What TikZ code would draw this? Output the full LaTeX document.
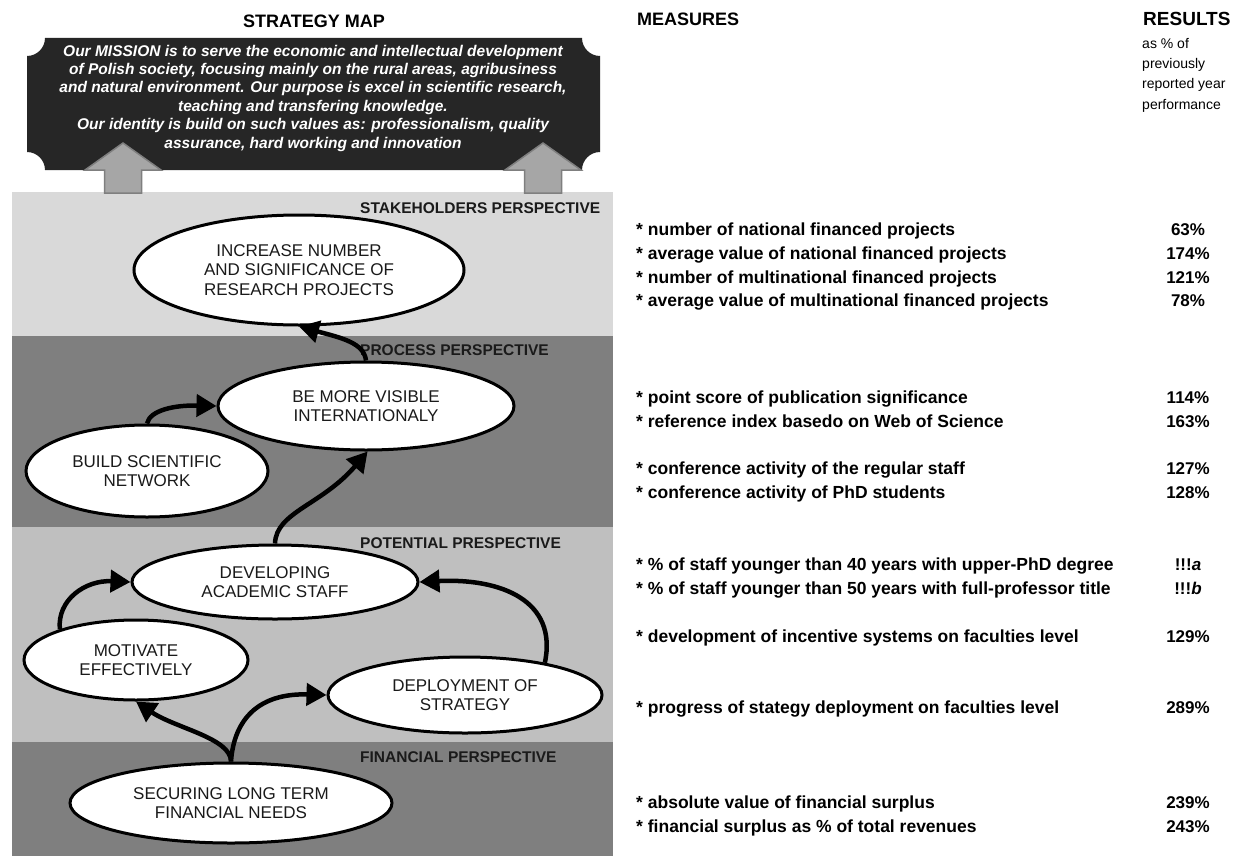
\documentclass[tikz,border=0pt]{standalone}
\usepackage{fontspec}
\setmainfont{Liberation Sans}
\usetikzlibrary{shapes.geometric,arrows.meta}
\definecolor{bandA}{HTML}{D9D9D9}
\definecolor{bandB}{HTML}{7F7F7F}
\definecolor{bandC}{HTML}{BFBFBF}
\definecolor{boxc}{HTML}{262626}
\definecolor{garrow}{HTML}{A6A6A6}
\definecolor{garrowd}{HTML}{7F7F7F}
\definecolor{txt}{HTML}{1A1A1A}
\begin{document}
\begin{tikzpicture}[x=1pt,y=-1pt,
  ell/.style={ellipse, draw=black, line width=3pt, fill=white, inner sep=0pt, align=center,
    font=\fontsize{17}{19.5}\selectfont, text=txt},
  conn/.style={line width=4.5pt, -{Triangle[length=20pt,width=22pt]}},
  bandlab/.style={anchor=mid west, inner sep=0pt, font=\bfseries\fontsize{15.5}{18}\selectfont, text=txt},
  head/.style={inner sep=0pt, font=\bfseries\fontsize{18}{20}\selectfont},
  meas/.style={anchor=mid west, inner sep=0pt, font=\bfseries\fontsize{17.5}{20}\selectfont},
  res/.style={anchor=mid, inner sep=0pt, font=\bfseries\fontsize{17}{20}\selectfont},
  blockarrow/.style={fill=garrow, draw=garrowd, line width=1.5pt, line join=miter}
]
\useasboundingbox (0,0) rectangle (1238,856);
\fill[white] (0,0) rectangle (1238,856);

% perspective bands
\fill[bandA] (12,192) rectangle (613,336);
\fill[bandB] (12,336) rectangle (613,527);
\fill[bandC] (12,527) rectangle (613,742);
\fill[bandB] (12,742) rectangle (613,856);

% mission box
\fill[boxc] (45,38) -- (582,38) .. controls (582,47.9) and (590.1,56) .. (600,56)
  -- (600,152) .. controls (590.1,152) and (582,160.1) .. (582,170)
  -- (45,170) .. controls (45,160.1) and (36.9,152) .. (27,152)
  -- (27,56) .. controls (36.9,56) and (45,47.9) .. cycle;
\node[align=center, text=white, inner sep=0pt, font=\bfseries\itshape\fontsize{15.5}{18.4}\selectfont]
  (mission) at (313,98) {Our MISSION is to serve the economic and intellectual development\\
  of Polish society, focusing mainly on the rural areas, agribusiness\\
  and natural environment. Our purpose is excel in scientific research,\\
  teaching and transfering knowledge.\\
  Our identity is build on such values as: professionalism, quality\\
  assurance, hard working and innovation};

% grey block arrows
\draw[blockarrow] (123,143) -- (161,170) -- (141.5,170) -- (141.5,193) -- (104.5,193) -- (104.5,170) -- (85,170) -- cycle;
\draw[blockarrow] (543,143) -- (581,170) -- (561.5,170) -- (561.5,193) -- (524.5,193) -- (524.5,170) -- (505,170) -- cycle;

% headings
\node[head] (hmap) at (314,21) {STRATEGY MAP};
\node[head, anchor=mid west] (hmeas) at (637,23) {MEASURES};
\node[head, anchor=mid west, font=\bfseries\fontsize{19}{20}\selectfont] (hres) at (1143,23) {RESULTS};
\node[anchor=north west, align=left, inner sep=0pt, font=\fontsize{14}{20.3}\selectfont] (hsub) at (1142,38)
  {as \% of\\previously\\reported year\\performance};

% band labels
\node[bandlab] (lstake) at (360,210.5) {STAKEHOLDERS PERSPECTIVE};
\node[bandlab] (lproc) at (360,352.5) {PROCESS PERSPECTIVE};
\node[bandlab] (lpot) at (360,545.5) {POTENTIAL PRESPECTIVE};
\node[bandlab] (lfin) at (360,759.5) {FINANCIAL PERSPECTIVE};

% objectives
\node[ell, minimum width=330pt, minimum height=110pt] (inc) at (299,270) {INCREASE NUMBER\\AND SIGNIFICANCE OF\\RESEARCH PROJECTS};
\node[ell, minimum width=296pt, minimum height=88pt] (vis) at (366,406) {BE MORE VISIBLE\\INTERNATIONALY};
\node[ell, minimum width=242pt, minimum height=92pt] (build) at (147,471) {BUILD SCIENTIFIC\\NETWORK};
\node[ell, minimum width=286pt, minimum height=74pt] (dev) at (275,582) {DEVELOPING\\ACADEMIC STAFF};
\node[ell, minimum width=224pt, minimum height=80pt] (mot) at (136,660) {MOTIVATE\\EFFECTIVELY};
\node[ell, minimum width=274pt, minimum height=76pt] (dep) at (465,695) {DEPLOYMENT OF\\STRATEGY};
\node[ell, minimum width=322pt, minimum height=80pt] (sec) at (231,803) {SECURING LONG TERM\\FINANCIAL NEEDS};

% connectors
\draw[conn] (vis.north) .. controls (364,343) and (342,338) .. (inc.-90);
\draw[conn] (build.north) .. controls (150,410) and (175,405) .. (vis.west);
\draw[conn] (dev.north) .. controls (276,512) and (322,505) .. (vis.-88);
\draw[conn] (mot.158) .. controls (57,600) and (85,580) .. (dev.west);
\draw[conn] (dep.22) .. controls (558,600) and (500,578) .. (dev.east);
\draw[conn] (sec.north) .. controls (231,738) and (175,728) .. (mot.south);
\draw[conn] (sec.north) .. controls (234,718) and (260,693) .. (dep.west);

% measures
\node[meas] (m1) at (636,233) {* number of national financed projects};
\node[meas] (m2) at (636,257) {* average value of national financed projects};
\node[meas] (m3) at (636,281) {* number of multinational financed projects};
\node[meas] (m4) at (636,304) {* average value of multinational financed projects};
\node[meas] (m5) at (636,401) {* point score of publication significance};
\node[meas] (m6) at (636,425) {* reference index basedo on Web of Science};
\node[meas] (m7) at (636,472) {* conference activity of the regular staff};
\node[meas] (m8) at (636,496) {* conference activity of PhD students};
\node[meas] (m9) at (636,568) {* \% of staff younger than 40 years with upper-PhD degree};
\node[meas] (m10) at (636,592) {* \% of staff younger than 50 years with full-professor title};
\node[meas] (m11) at (636,640) {* development of incentive systems on faculties level};
\node[meas] (m12) at (636,711) {* progress of stategy deployment on faculties level};
\node[meas] (m13) at (636,806) {* absolute value of financial surplus};
\node[meas] (m14) at (636,830) {* financial surplus as \% of total revenues};

% results
\node[res] (r1) at (1188,233) {63\%};
\node[res] (r2) at (1188,257) {174\%};
\node[res] (r3) at (1188,281) {121\%};
\node[res] (r4) at (1188,304) {78\%};
\node[res] (r5) at (1188,401) {114\%};
\node[res] (r6) at (1188,425) {163\%};
\node[res] (r7) at (1188,472) {127\%};
\node[res] (r8) at (1188,496) {128\%};
\node[res] (r9) at (1188,568) {!!!\textit{a}};
\node[res] (r10) at (1188,592) {!!!\textit{b}};
\node[res] (r11) at (1188,640) {129\%};
\node[res] (r12) at (1188,711) {289\%};
\node[res] (r13) at (1188,806) {239\%};
\node[res] (r14) at (1188,830) {243\%};
\end{tikzpicture}
\end{document}
